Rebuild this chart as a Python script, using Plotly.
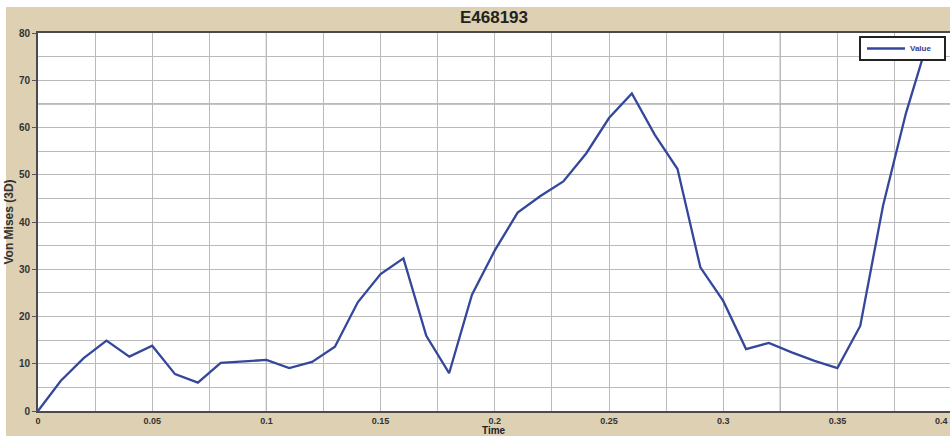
import plotly.graph_objects as go

# Von Mises stress history for element E468193
time = [0.00, 0.01, 0.02, 0.03, 0.04, 0.05, 0.06, 0.07, 0.08, 0.09,
        0.10, 0.11, 0.12, 0.13, 0.14, 0.15, 0.16, 0.17, 0.18, 0.19,
        0.20, 0.21, 0.22, 0.23, 0.24, 0.25, 0.26, 0.27, 0.28, 0.29,
        0.30, 0.31, 0.32, 0.33, 0.34, 0.35, 0.36, 0.37, 0.38, 0.39]
von_mises = [0.0, 6.4, 11.2, 14.9, 11.5, 13.8, 7.8, 6.0, 10.2, 10.5,
             10.8, 9.1, 10.4, 13.6, 23.0, 29.0, 32.3, 15.9, 8.0, 24.6,
             34.0, 42.0, 45.5, 48.6, 54.5, 62.0, 67.2, 58.5, 51.2, 30.4,
             23.3, 13.1, 14.4, 12.4, 10.6, 9.1, 18.0, 43.5, 63.0, 79.0]
series_name = "Value"
x_title = "Time"

x_ticks = [0, 0.05, 0.1, 0.15, 0.2, 0.25, 0.3, 0.35]
x_tick_text = ["0", "0.05", "0.1", "0.15", "0.2", "0.25", "0.3", "0.35"]
y_ticks = [0, 10, 20, 30, 40, 50, 60, 70, 80]

W, H = 950, 436
ML, MR, MT, MB = 38, 0, 33, 25
pw = W - ML - MR
ph = H - MT - MB
x_span = 0.05 / 114.2 * pw  # axis span that fills the plot width

beige = "#ddd0b3"
grid = "#bababa"
grid_dark = "#8a8a8a"
line_col = "#34479a"
font = "Liberation Sans, Arial, sans-serif"
tick_font = dict(family=font, size=10, color="#333333")
xtick_font = dict(family=font, size=9, color="#333333")

fig = go.Figure()
fig.add_trace(go.Scatter(
    x=time, y=von_mises, mode="lines", name=series_name,
    line=dict(color=line_col, width=2.3), showlegend=False,
))

def px_x(p):
    return (p - ML) / pw

def px_y(p):
    return (H - MB - p) / ph

shapes = [
    # white strips along the top and left edges of the canvas
    dict(type="rect", xref="paper", yref="paper", layer="below",
         x0=px_x(0), x1=1.0, y0=px_y(7), y1=px_y(0),
         fillcolor="white", line=dict(width=0)),
    dict(type="rect", xref="paper", yref="paper", layer="below",
         x0=px_x(0), x1=px_x(6), y0=px_y(H), y1=px_y(0),
         fillcolor="white", line=dict(width=0)),
    # darker grid lines
    dict(type="line", xref="paper", yref="y", layer="below",
         x0=0, x1=1, y0=65, y1=65, line=dict(color=grid_dark, width=1.2)),
    dict(type="line", xref="x", yref="paper", layer="below",
         x0=0.1, x1=0.1, y0=0, y1=1, line=dict(color=grid_dark, width=1.2)),
    dict(type="line", xref="x", yref="paper", layer="below",
         x0=0.325, x1=0.325, y0=0, y1=1, line=dict(color=grid_dark, width=1.2)),
    # legend box and its line sample
    dict(type="rect", xref="paper", yref="paper", layer="above",
         x0=px_x(860), x1=px_x(945), y0=px_y(60), y1=px_y(37),
         fillcolor="white", line=dict(color="#222222", width=2)),
    dict(type="line", xref="paper", yref="paper", layer="above",
         x0=px_x(867), x1=px_x(905), y0=px_y(48.5), y1=px_y(48.5),
         line=dict(color=line_col, width=2.5)),
]

fig.update_layout(
    width=W, height=H,
    margin=dict(l=ML, r=MR, t=MT, b=MB, pad=0),
    paper_bgcolor=beige,
    plot_bgcolor="white",
    font=tick_font,
    title=dict(text="<b>E468193</b>", x=(ML + pw / 2) / W, xanchor="center",
               y=1 - 17 / H, yanchor="middle",
               font=dict(family=font, size=17, color="#222222")),
    showlegend=False,
    shapes=shapes,
    annotations=[
        dict(text="<b>%s</b>" % series_name, xref="paper", yref="paper",
             x=px_x(908), y=px_y(48.5), xanchor="left", yanchor="middle",
             showarrow=False, font=dict(family=font, size=8, color="#2b3e91")),
        dict(text="<b>0.4</b>", xref="paper", yref="paper",
             x=px_x(949), y=px_y(420.5), xanchor="right", yanchor="middle",
             borderpad=0, showarrow=False, font=xtick_font),
        # x-axis title sits right on the bottom edge
        dict(text="<b>%s</b>" % x_title, xref="paper", yref="paper",
             x=0.5, y=px_y(437), xanchor="center", yanchor="bottom",
             borderpad=0, showarrow=False,
             font=dict(family=font, size=10, color="#222222")),
    ],
)

fig.update_xaxes(
    range=[0, x_span],
    tickvals=x_ticks, ticktext=["<b>%s</b>" % t for t in x_tick_text],
    tickfont=xtick_font,
    ticks="", showgrid=True, gridcolor=grid, gridwidth=1,
    minor=dict(dtick=0.025, tick0=0, showgrid=True, gridcolor=grid, gridwidth=1),
    showline=True, linecolor="#4a4a4a", linewidth=2, mirror=True,
    zeroline=False,
)
fig.update_yaxes(
    range=[0, 80],
    tickvals=y_ticks, ticktext=["<b>%d</b>" % v for v in y_ticks],
    tickfont=tick_font,
    ticks="outside", ticklen=4, tickcolor="#555555",
    showgrid=True, gridcolor=grid, gridwidth=1,
    minor=dict(dtick=5, tick0=0, showgrid=True, gridcolor=grid, gridwidth=1),
    showline=True, linecolor="#4a4a4a", linewidth=2, mirror=False,
    zeroline=False,
    title=dict(text="<b>Von Mises (3D)</b>", standoff=3,
               font=dict(family=font, size=12, color="#333333")),
)

fig.write_html("out.html")
